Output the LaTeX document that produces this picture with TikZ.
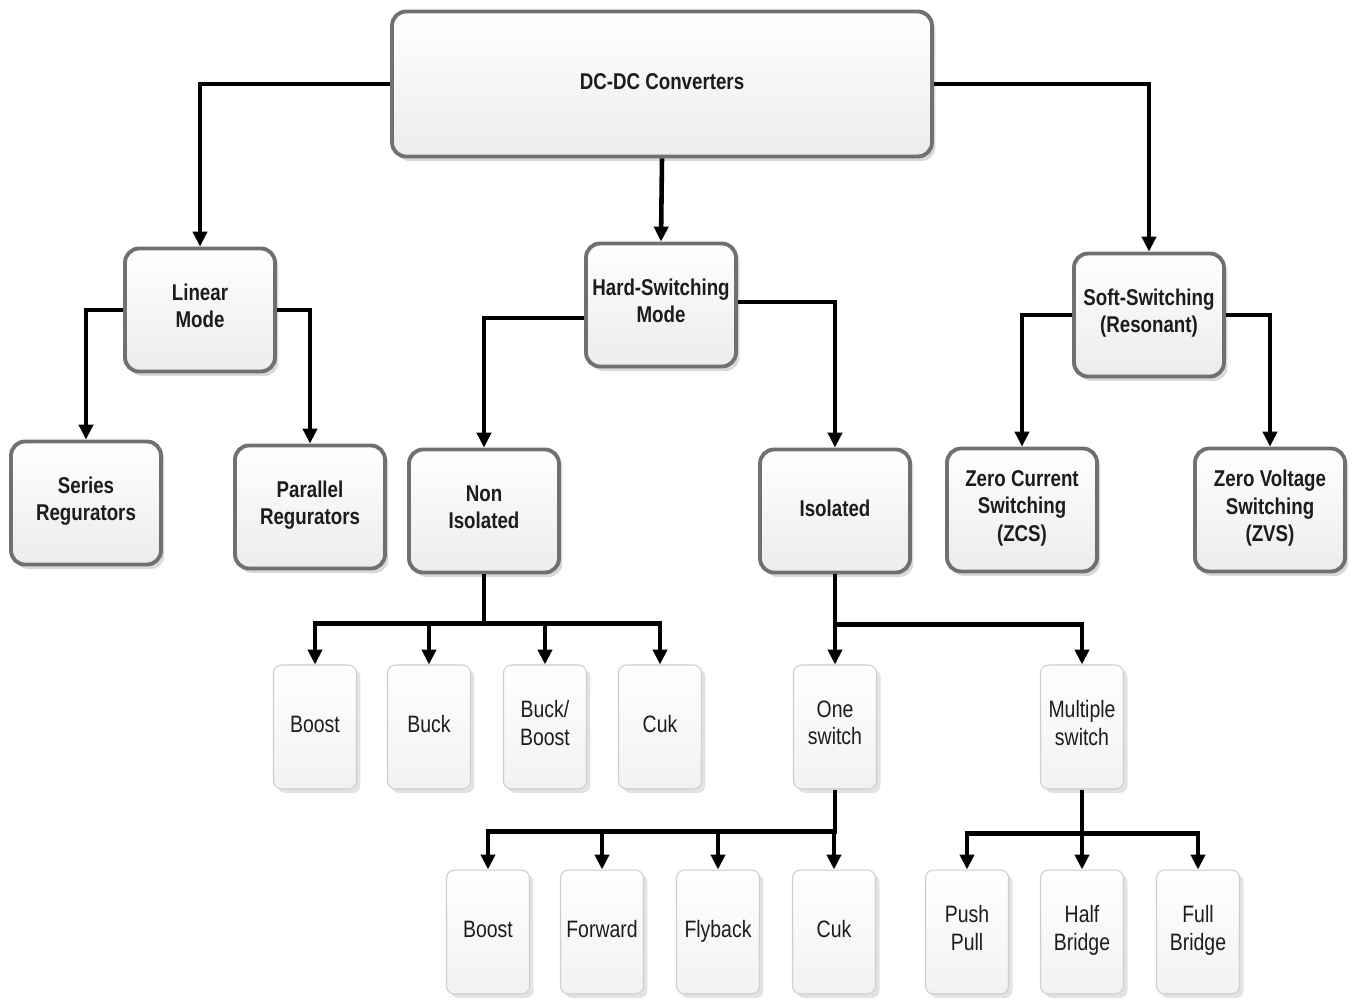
\documentclass[tikz,border=0pt]{standalone}
\usepackage{fontspec}
\setmainfont{Liberation Sans}[FakeStretch=0.82]
\usetikzlibrary{arrows.meta,shadows}
\definecolor{GrisBorde}{RGB}{112,112,112}
\definecolor{GrisHoja}{RGB}{205,205,205}
\definecolor{GrisFondo}{RGB}{236,236,236}
\definecolor{TextoOscuro}{RGB}{28,28,28}

\tikzset{
  caja/.style={draw=GrisBorde, line width=2.2pt, rounded corners=0.28cm,
    top color=white, bottom color=GrisFondo, minimum width=3.0cm,
    minimum height=2.46cm, inner sep=1pt, align=center, text=TextoOscuro,
    font=\fontsize{13}{15.5}\selectfont\bfseries,
    execute at begin node=\strut, execute at end node=\strut,
    drop shadow={shadow xshift=0.07cm, shadow yshift=-0.09cm, opacity=0.3}},
  hoja/.style={draw=GrisHoja, line width=0.6pt, rounded corners=0.16cm,
    top color=white, bottom color=GrisFondo!70, minimum width=1.66cm,
    minimum height=2.48cm, inner sep=1pt, align=center, text=TextoOscuro,
    font=\fontsize{13.5}{15.5}\selectfont,
    execute at begin node=\strut, execute at end node=\strut,
    drop shadow={shadow xshift=0.08cm, shadow yshift=-0.08cm, opacity=0.22}},
  flecha/.style={line width=2.6pt, -{Triangle[length=8.5pt,width=8pt]}}
}

\begin{document}
\begin{tikzpicture}[x=0.02cm,y=-0.02cm]
  \useasboundingbox (0,0) rectangle (1356,1002);

  % nivel superior
  \node[caja,minimum width=10.8cm,minimum height=2.9cm] (dcdc) at (662,84) {DC-DC Converters};

  % modos
  \node[caja] (lineal) at (200,310) {Linear\\Mode};
  \node[caja] (hard) at (661,305) {Hard-Switching\\Mode};
  \node[caja] (soft) at (1149,315) {Soft-Switching\\(Resonant)};

  \node[caja] (serie) at (86,503) {Series\\Regurators};
  \node[caja] (paral) at (310,507) {Parallel\\Regurators};
  \node[caja] (noiso) at (484,511) {Non\\Isolated};
  \node[caja] (iso) at (835,511) {Isolated};
  \node[caja] (zcs) at (1022,510) {Zero Current\\Switching\\(ZCS)};
  \node[caja] (zvs) at (1270,510) {Zero Voltage\\Switching\\(ZVS)};

  % convertidores no aislados
  \node[hoja] (boostA) at (315,727) {Boost};
  \node[hoja] (buck) at (429,727) {Buck};
  \node[hoja] (buckboost) at (545,727) {Buck/\\Boost};
  \node[hoja] (cukA) at (660,727) {Cuk};
  \node[hoja] (uno) at (835,727) {One\\switch};
  \node[hoja] (multi) at (1082,727) {Multiple\\switch};

  % convertidores aislados
  \node[hoja] (boostB) at (488,932) {Boost};
  \node[hoja] (forward) at (602,932) {Forward};
  \node[hoja] (flyback) at (718,932) {Flyback};
  \node[hoja] (cukB) at (834,932) {Cuk};
  \node[hoja] (push) at (967,932) {Push\\Pull};
  \node[hoja] (half) at (1082,932) {Half\\Bridge};
  \node[hoja] (full) at (1198,932) {Full\\Bridge};

  % conexiones
  \draw[flecha] (dcdc.west) -| (lineal.north);
  \draw[flecha] (dcdc.south) -- (hard.north);
  \draw[flecha] (dcdc.east) -| (soft.north);

  \draw[flecha] (lineal.west) -| (serie.north);
  \draw[flecha] (lineal.east) -| (paral.north);
  \draw[flecha] ([yshift=-0.26cm]hard.west) -| (noiso.north);
  \draw[flecha] ([yshift=0.06cm]hard.east) -| (iso.north);
  \draw[flecha] (soft.west) -| (zcs.north);
  \draw[flecha] (soft.east) -| (zvs.north);

  \foreach \n in {boostA,buck,buckboost,cukA}
    \draw[flecha] (noiso.south) -- ++(0,49) -| (\n.north);
  \foreach \n in {uno,multi}
    \draw[flecha] (iso.south) -- ++(0,50) -| (\n.north);
  \foreach \n in {boostB,forward,flyback,cukB}
    \draw[flecha] (uno.south) -- ++(0,42) -| (\n.north);
  \foreach \n in {push,half,full}
    \draw[flecha] (multi.south) -- ++(0,44) -| (\n.north);
\end{tikzpicture}
\end{document}
